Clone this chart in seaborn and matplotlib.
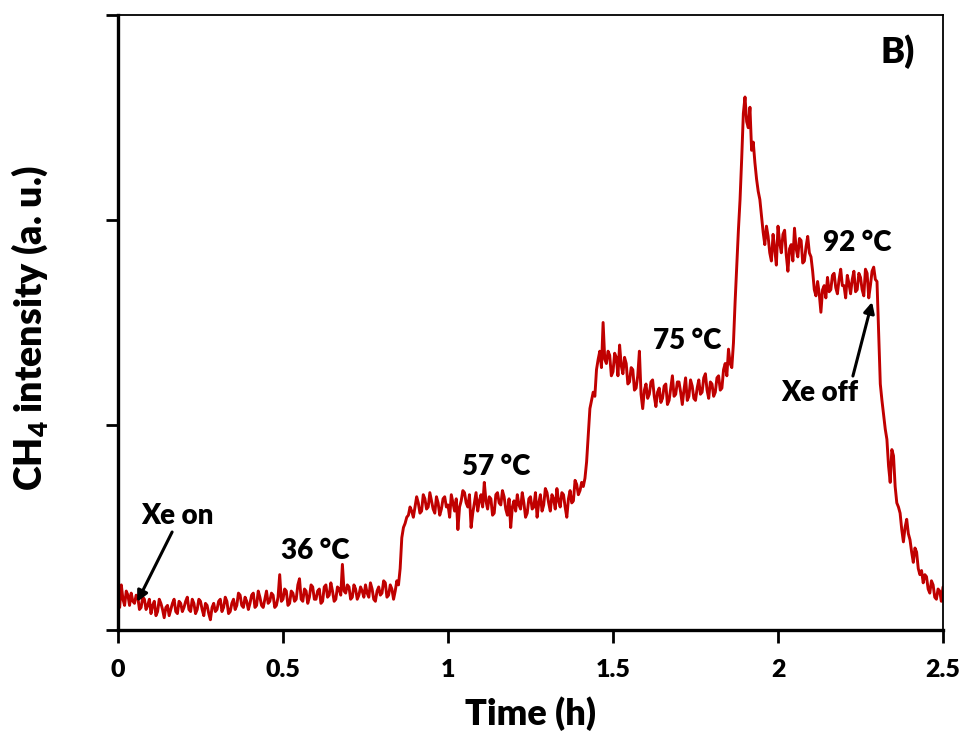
import numpy as np
import pandas as pd
import matplotlib
matplotlib.use("Agg")
import matplotlib.pyplot as plt
import seaborn as sns

# ---- data ----
time_h = np.round(np.linspace(0.0, 2.5, 501), 3)
ch4 = [
    0.16, 0.11, 0.22, 0.15, 0.12, 0.19, 0.17, 0.12, 0.18, 0.14,
    0.13, 0.17, 0.16, 0.10, 0.11, 0.16, 0.15, 0.10, 0.12, 0.15,
    0.08, 0.12, 0.14, 0.07, 0.09, 0.15, 0.13, 0.10, 0.06, 0.11,
    0.12, 0.07, 0.10, 0.13, 0.15, 0.09, 0.08, 0.14, 0.13, 0.09,
    0.11, 0.14, 0.16, 0.10, 0.09, 0.15, 0.13, 0.08, 0.10, 0.15,
    0.14, 0.10, 0.07, 0.13, 0.12, 0.08, 0.05, 0.11, 0.13, 0.09,
    0.10, 0.14, 0.15, 0.09, 0.11, 0.16, 0.14, 0.08, 0.09, 0.13,
    0.15, 0.10, 0.12, 0.18, 0.17, 0.12, 0.11, 0.16, 0.14, 0.10,
    0.13, 0.17, 0.18, 0.11, 0.12, 0.19, 0.16, 0.12, 0.11, 0.15,
    0.19, 0.13, 0.14, 0.18, 0.17, 0.11, 0.12, 0.16, 0.27, 0.14,
    0.15, 0.20, 0.19, 0.12, 0.13, 0.19, 0.18, 0.14, 0.15, 0.22,
    0.25, 0.15, 0.14, 0.20, 0.19, 0.13, 0.16, 0.22, 0.21, 0.15,
    0.15, 0.19, 0.20, 0.13, 0.14, 0.21, 0.22, 0.16, 0.17, 0.23,
    0.19, 0.14, 0.15, 0.21, 0.20, 0.17, 0.32, 0.19, 0.18, 0.22,
    0.21, 0.15, 0.16, 0.22, 0.20, 0.15, 0.17, 0.21, 0.19, 0.16,
    0.22, 0.18, 0.16, 0.23, 0.20, 0.15, 0.14, 0.19, 0.21, 0.17,
    0.18, 0.24, 0.23, 0.16, 0.17, 0.22, 0.20, 0.15, 0.19, 0.24,
    0.22, 0.30, 0.45, 0.50, 0.52, 0.55, 0.56, 0.60, 0.58, 0.55,
    0.60, 0.65, 0.62, 0.57, 0.58, 0.66, 0.64, 0.59, 0.60, 0.67,
    0.63, 0.59, 0.57, 0.65, 0.62, 0.56, 0.59, 0.64, 0.65, 0.60,
    0.61, 0.55, 0.66, 0.62, 0.58, 0.64, 0.49, 0.60, 0.63, 0.68,
    0.67, 0.62, 0.60, 0.66, 0.50, 0.57, 0.62, 0.67, 0.58, 0.63,
    0.66, 0.60, 0.72, 0.63, 0.59, 0.65, 0.64, 0.56, 0.57, 0.66,
    0.67, 0.62, 0.61, 0.68, 0.65, 0.59, 0.56, 0.64, 0.50, 0.60,
    0.63, 0.58, 0.66, 0.61, 0.59, 0.67, 0.62, 0.55, 0.57, 0.64,
    0.65, 0.59, 0.60, 0.67, 0.55, 0.62, 0.66, 0.58, 0.61, 0.69,
    0.67, 0.62, 0.58, 0.66, 0.64, 0.59, 0.69, 0.63, 0.60, 0.67,
    0.66, 0.60, 0.55, 0.64, 0.68, 0.62, 0.63, 0.73, 0.71, 0.66,
    0.68, 0.72, 0.70, 0.74, 0.82, 0.95, 1.08, 1.12, 1.16, 1.14,
    1.27, 1.32, 1.36, 1.28, 1.50, 1.32, 1.30, 1.36, 1.34, 1.24,
    1.26, 1.35, 1.33, 1.24, 1.39, 1.29, 1.25, 1.33, 1.30, 1.20,
    1.21, 1.28, 1.27, 1.17, 1.18, 1.24, 1.36, 1.15, 1.08, 1.17,
    1.20, 1.13, 1.15, 1.21, 1.22, 1.14, 1.09, 1.16, 1.18, 1.11,
    1.13, 1.19, 1.20, 1.10, 1.12, 1.18, 1.24, 1.14, 1.15, 1.21,
    1.21, 1.16, 1.10, 1.17, 1.23, 1.12, 1.14, 1.22, 1.19, 1.13,
    1.12, 1.18, 1.22, 1.15, 1.16, 1.23, 1.25, 1.17, 1.13, 1.21,
    1.20, 1.14, 1.16, 1.23, 1.24, 1.17, 1.18, 1.27, 1.30, 1.24,
    1.37, 1.30, 1.28, 1.40, 1.60, 1.78, 1.95, 2.10, 2.30, 2.52,
    2.60, 2.48, 2.45, 2.55, 2.34, 2.38, 2.28, 2.20, 2.14, 2.10,
    2.02, 1.94, 1.88, 1.97, 1.92, 1.84, 1.80, 1.93, 1.86, 1.78,
    1.97, 1.89, 1.84, 1.93, 1.95, 1.83, 1.75, 1.86, 1.88, 1.80,
    1.96, 1.86, 1.82, 1.91, 1.90, 1.79, 1.80, 1.87, 1.92, 1.84,
    1.82, 1.75, 1.66, 1.63, 1.70, 1.64, 1.55, 1.66, 1.68, 1.62,
    1.72, 1.65, 1.66, 1.73, 1.74, 1.67, 1.64, 1.71, 1.76, 1.68,
    1.68, 1.62, 1.73, 1.69, 1.64, 1.71, 1.75, 1.65, 1.66, 1.74,
    1.72, 1.66, 1.63, 1.76, 1.74, 1.62, 1.68, 1.75, 1.77, 1.71,
    1.70, 1.45, 1.20, 1.12, 1.05, 0.98, 0.93, 0.80, 0.72, 0.88,
    0.85, 0.70, 0.62, 0.60, 0.57, 0.49, 0.43, 0.50, 0.54, 0.47,
    0.44, 0.38, 0.33, 0.40, 0.38, 0.30, 0.27, 0.29, 0.23, 0.27,
    0.26, 0.20, 0.18, 0.24, 0.22, 0.16, 0.15, 0.20, 0.19, 0.14,
    0.21,
]
x_ticks = [0, 0.5, 1, 1.5, 2, 2.5]
x_tick_labels = ["0", "0.5", "1", "1.5", "2", "2.5"]
y_ticks = [0, 1, 2, 3]
temp_labels = ["36 °C", "57 °C", "75 °C", "92 °C"]
temp_pos = [(0.597, 0.385), (1.145, 0.795), (1.724, 1.41), (2.24, 1.89)]

df = pd.DataFrame({"Time (h)": time_h, "CH4": ch4})

sns.set_style("ticks")
plt.rcParams["font.family"] = ["Lato", "DejaVu Sans"]
plt.rcParams["mathtext.fontset"] = "custom"
plt.rcParams["mathtext.rm"] = "Lato:heavy"
plt.rcParams["mathtext.it"] = "Lato:heavy"
plt.rcParams["mathtext.bf"] = "Lato:heavy"
plt.rcParams["mathtext.default"] = "rm"
for k in ["text.color", "axes.labelcolor", "xtick.color", "ytick.color", "axes.edgecolor"]:
    plt.rcParams[k] = "black"

W = "heavy"

fig = plt.figure(figsize=(9.62, 7.40), dpi=100)
ax = fig.add_axes([118 / 962, 110 / 740, (943 - 118) / 962, (630 - 15) / 740])

sns.lineplot(data=df, x="Time (h)", y="CH4", ax=ax, color="#C00000",
             linewidth=2.1, estimator=None)

ax.set_xlim(0, 2.5)
ax.set_ylim(0, 3)
ax.set_xticks(x_ticks)
ax.set_xticklabels(x_tick_labels, fontsize=18, fontweight=W)
ax.set_yticks(y_ticks)
ax.set_yticklabels([])
ax.tick_params(axis="both", direction="out", length=9, width=2, colors="black")
ax.tick_params(axis="x", pad=12)

for side in ["left", "bottom"]:
    ax.spines[side].set_linewidth(2.4)
for side in ["top", "right"]:
    ax.spines[side].set_visible(True)
    ax.spines[side].set_linewidth(1.3)

ax.set_xlabel("Time (h)", fontsize=26, fontweight=W)
ax.set_ylabel("CH$_4$ intensity (a. u.)", fontsize=27, fontweight=W)
ax.xaxis.set_label_coords(0.5, -0.108)
ax.yaxis.set_label_coords(-0.082, 0.49)

for lab, (tx, ty) in zip(temp_labels, temp_pos):
    ax.text(tx, ty, lab, fontsize=20, fontweight=W, ha="center", va="center")

arrow_kw = dict(arrowstyle="-|>", color="black", lw=2.2,
                mutation_scale=16, shrinkA=0, shrinkB=0)
ax.text(0.18, 0.556, "Xe on", fontsize=20, fontweight=W, ha="center", va="center")
ax.annotate("", xy=(0.058, 0.137), xytext=(0.164, 0.478), arrowprops=arrow_kw)
ax.text(2.127, 1.156, "Xe off", fontsize=20, fontweight=W, ha="center", va="center")
ax.annotate("", xy=(2.285, 1.60), xytext=(2.227, 1.239), arrowprops=arrow_kw)
ax.text(2.364, 2.82, "B)", fontsize=26, fontweight=W, ha="center", va="center")

fig.savefig("out.png", dpi=100)
